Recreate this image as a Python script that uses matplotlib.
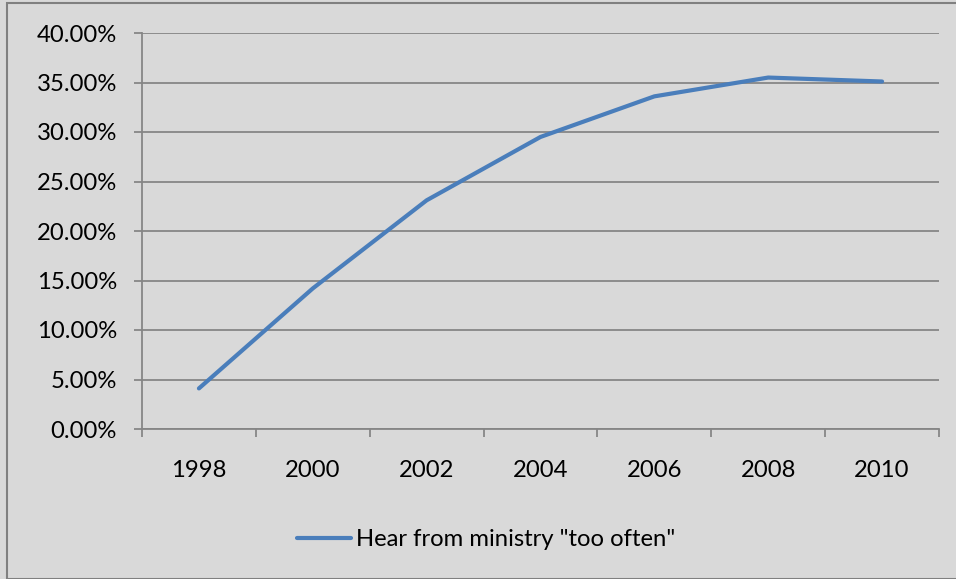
import matplotlib
matplotlib.use("Agg")
import matplotlib.pyplot as plt
from matplotlib.patches import Rectangle
from matplotlib.ticker import FixedLocator, NullFormatter, FixedFormatter

plt.rcParams['font.family'] = ['Lato', 'DejaVu Sans']

years = ["1998", "2000", "2002", "2004", "2006", "2008", "2010"]
too_often = [4.1, 14.2, 23.1, 29.5, 33.6, 35.5, 35.1]  # percent
series_label = 'Hear from ministry "too often"'
y_ticks = [0, 5, 10, 15, 20, 25, 30, 35, 40]

BG = "#D9D9D9"
GRID = "#868686"
LINE = "#4A7EBB"
W, H = 956, 579
FS = 17.2

fig = plt.figure(figsize=(W / 100, H / 100), dpi=100, facecolor=BG)
fig.patches.append(Rectangle((7 / W, 0), 1.0, 1 - 3 / H, transform=fig.transFigure,
                             fill=False, edgecolor="#808080", linewidth=1.5))

ax = fig.add_axes([142 / W, 1 - 429 / H, (939 - 142) / W, (429 - 33) / H])
ax.set_facecolor(BG)

x = list(range(len(years)))
ax.plot(x, too_often, color=LINE, linewidth=3.0, solid_capstyle="round",
        solid_joinstyle="round", label=series_label, zorder=3)

ax.set_xlim(-0.5, len(years) - 0.5)
ax.set_ylim(0, 40)

ax.set_yticks(y_ticks)
ax.set_yticklabels([f"{v:.2f}%" for v in y_ticks])
ax.yaxis.grid(True, color=GRID, linewidth=1.3)
ax.set_axisbelow(True)

ax.xaxis.set_major_locator(FixedLocator([i - 0.5 for i in range(len(years) + 1)]))
ax.xaxis.set_major_formatter(NullFormatter())
ax.xaxis.set_minor_locator(FixedLocator(x))
ax.xaxis.set_minor_formatter(FixedFormatter(years))

for s in ("top", "right"):
    ax.spines[s].set_visible(False)
for s in ("left", "bottom"):
    ax.spines[s].set_color(GRID)
    ax.spines[s].set_linewidth(1.3)

ax.tick_params(axis="y", which="major", length=6, width=1.3, color=GRID,
               labelsize=FS, pad=12, labelcolor="black")
ax.tick_params(axis="x", which="major", length=6, width=1.3, color=GRID)
ax.tick_params(axis="x", which="minor", length=0, labelsize=FS, pad=22,
               labelcolor="black")

leg = fig.legend(loc="center", bbox_to_anchor=(486 / W, 1 - 540 / H),
                 frameon=False, fontsize=FS, handlelength=2.3,
                 handletextpad=0.2)

fig.savefig("out.png", dpi=100, facecolor=BG)
